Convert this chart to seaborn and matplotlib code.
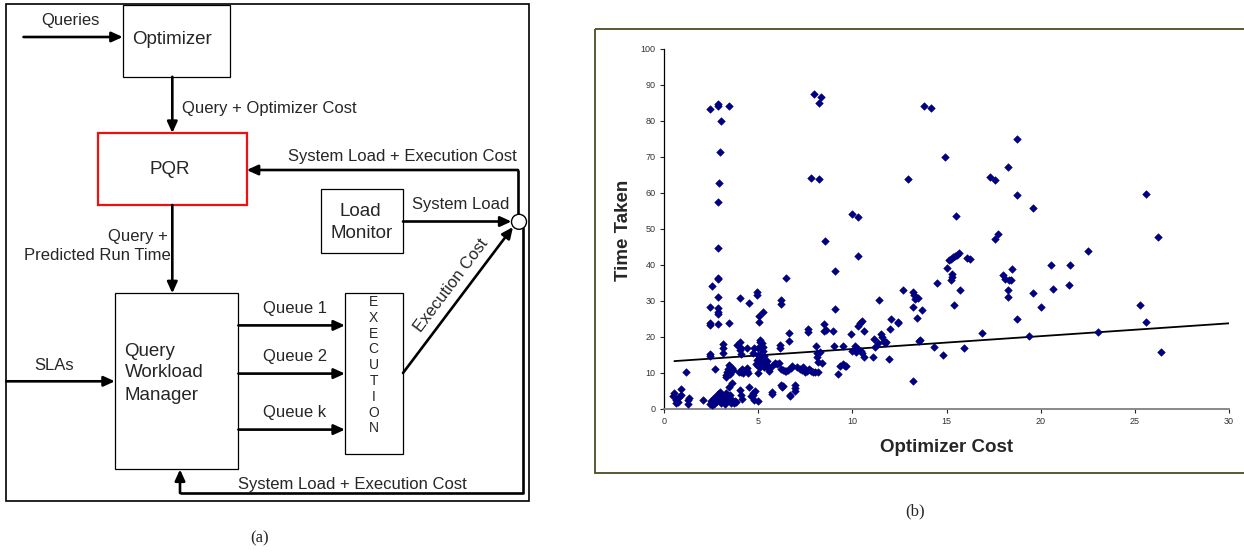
import numpy as np
import pandas as pd
import matplotlib
matplotlib.use("Agg")
import matplotlib.pyplot as plt
from matplotlib.patches import Rectangle, Circle
import seaborn as sns

# panel (b) points
cost = [2.42, 2.89, 2.89, 3.45, 3.04, 2.98, 2.91, 2.87, 2.87, 2.89, 2.89, 2.53, 2.87, 2.42, 2.89,
        2.89, 2.89, 2.42, 2.42, 2.87, 3.45, 2.46, 2.46, 2.72, 1.19,
        0.54, 0.63, 0.63, 0.88, 0.80, 0.72, 0.50, 0.90, 1.30, 1.35, 1.27, 2.05,
        2.45, 2.50, 2.55, 2.60, 2.70, 2.75, 2.80, 2.85, 2.90, 2.95, 3.00, 3.05, 3.10, 3.15, 3.20,
        3.30, 3.35, 3.45, 3.50, 3.55, 3.60, 3.70, 3.75, 3.80, 2.65, 3.25, 2.98, 3.45, 3.63,
        3.15, 3.15, 3.15,
        3.30, 3.35, 3.40, 3.45, 3.50, 3.55, 3.60, 3.30, 3.65,
        3.86, 4.09, 4.06, 4.04, 4.06, 4.10,
        4.10, 4.15, 4.40, 4.40, 4.45, 4.00, 4.20,
        4.06, 4.10, 4.15, 4.52, 4.52, 4.60, 4.74, 4.79, 4.74, 4.39, 4.70,
        4.92, 4.92, 5.05, 5.05, 5.24, 5.12, 5.20, 5.24, 5.24, 5.00, 5.10, 4.80, 5.00, 4.85, 5.00,
        4.90, 4.95, 5.00, 5.05, 5.10, 5.10, 5.15, 5.20, 5.20, 5.25, 5.30, 5.35, 5.40, 5.45, 5.00,
        5.15, 5.30, 5.50, 5.55, 5.60,
        5.76, 5.76, 5.80, 5.90, 6.00, 6.10, 6.16, 6.16, 6.20, 6.20, 6.20, 6.25, 6.30, 6.20, 6.30,
        6.40, 6.47, 6.50, 6.60, 6.66, 6.66, 6.70, 6.70, 6.75, 6.80, 6.96, 6.96, 6.96, 7.05, 7.20,
        7.35, 7.40, 7.50, 7.60, 7.70, 7.80, 7.90, 8.00, 8.20,
        7.62, 7.67, 7.80, 7.99, 8.24, 8.33, 8.24, 8.50, 8.50, 8.60, 8.57, 8.07, 8.10, 8.15, 8.20,
        8.37, 8.30, 8.97, 9.10, 9.08, 9.02, 9.50, 9.24, 9.35, 9.50, 9.60, 9.65,
        9.92, 9.99, 10.30, 10.30, 10.14, 10.00, 10.30, 10.40, 10.50, 10.64, 10.30, 10.45, 10.50,
        10.60, 10.20,
        11.12, 11.15, 11.20, 11.35, 11.42, 11.50, 11.60, 11.70, 11.75, 11.80, 11.93, 12.00, 12.04,
        12.44, 12.44,
        12.70, 12.95, 13.20, 13.25, 13.35, 13.50, 13.20, 13.42, 13.20, 13.60, 13.55, 13.68, 13.81,
        14.18, 14.35, 14.48, 14.83, 14.94, 15.02,
        15.15, 15.25, 15.35, 15.45, 15.55, 15.65, 15.28, 15.30, 15.25, 15.40, 15.48, 15.71, 15.93,
        16.08, 16.25, 16.88, 17.31, 17.59, 17.59, 17.76, 18.00, 18.10, 18.30, 18.40, 18.26, 18.26,
        18.26, 18.50, 18.76, 18.76, 18.76, 19.40, 19.60, 19.60, 20.00, 20.55, 20.63, 21.48, 21.56,
        22.49, 23.07, 25.30, 25.58, 25.58, 26.22, 26.38]

time_taken = [83.4, 84.3, 84.6, 84.2, 79.9, 71.3, 62.9, 57.5, 44.8, 36.4, 36.0, 34.2, 31.2, 28.2, 28.0,
              27.0, 26.5, 23.8, 23.3, 23.7, 23.8, 15.3, 14.6, 11.2, 10.3,
              4.4, 1.6, 2.5, 5.5, 3.4, 2.0, 3.5, 3.8, 1.4, 3.0, 2.5, 2.4,
              1.5, 2.2, 1.2, 2.8, 3.3, 2.0, 3.6, 4.2, 2.6, 4.8, 3.9, 1.8, 2.9, 3.5, 2.2,
              4.4, 2.6, 3.0, 4.0, 1.8, 2.5, 1.6, 2.3, 2.0, 1.4, 1.3, 2.2, 6.0, 7.1,
              18.0, 16.9, 15.6,
              9.0, 10.2, 11.2, 12.1, 9.6, 10.6, 11.3, 9.5, 10.8,
              17.8, 16.9, 30.7, 18.7, 16.4, 15.2,
              10.4, 11.2, 10.6, 11.4, 9.9, 10.2, 10.0,
              5.4, 3.8, 2.7, 29.4, 6.2, 3.5, 4.4, 16.9, 15.6, 16.9, 4.0,
              32.6, 31.7, 25.7, 24.3, 26.9, 19.2, 18.3, 17.3, 16.1, 17.0, 18.7, 2.5, 2.3, 4.9, 10.0,
              12.5, 13.5, 12.0, 14.2, 13.0, 11.8, 12.6, 14.0, 13.3, 12.2, 11.6, 12.8, 11.9, 13.2, 15.0,
              15.3, 14.6, 12.0, 11.0, 10.5,
              4.8, 4.1, 12.3, 12.8, 12.5, 12.9, 17.7, 16.9, 30.3, 29.1, 6.7, 6.0, 6.5, 11.0, 10.8,
              10.5, 36.3, 10.6, 10.7, 21.2, 19.0, 4.0, 3.5, 11.3, 12.0, 6.7, 5.8, 5.0, 11.6, 11.0,
              10.8, 11.7, 10.2, 10.6, 11.2, 10.5, 10.3, 10.2, 10.3,
              22.2, 21.4, 64.2, 87.5, 85.1, 86.6, 63.8, 23.5, 21.6, 21.9, 46.7, 17.4, 15.6, 14.5, 13.1,
              12.7, 15.8, 21.7, 38.4, 27.7, 17.4, 17.4, 9.7, 12.0, 12.5, 12.0, 11.9,
              20.7, 54.1, 53.3, 42.5, 17.4, 16.2, 23.0, 23.8, 24.5, 21.8, 16.8, 16.1, 15.5,
              14.4, 15.8,
              14.4, 19.5, 17.2, 18.3, 30.3, 20.8, 20.0, 19.0, 18.2, 18.7, 13.8, 22.2, 24.9,
              24.2, 23.8,
              33.0, 64.0, 32.6, 31.8, 30.6, 30.8, 28.2, 25.2, 7.9, 19.2, 18.8, 27.5, 84.2,
              83.5, 17.1, 35.1, 15.0, 69.9, 39.2,
              41.4, 41.8, 42.2, 42.5, 42.9, 43.3, 36.8, 37.4, 35.9, 28.9, 53.5, 33.0, 16.9,
              42.0, 41.6, 21.2, 64.5, 63.6, 47.3, 48.7, 37.1, 36.2, 35.9, 35.9, 67.3, 33.0,
              31.0, 38.9, 75.1, 59.5, 25.0, 20.3, 55.7, 32.3, 28.3, 40.0, 33.3, 34.4, 39.9,
              44.0, 21.5, 28.8, 59.8, 24.2, 47.9, 15.8]

# linear trendline as drawn (ends)
trend_x = [0.55, 30]
trend_y = [13.3, 23.8]

x_ticks = [0, 5, 10, 15, 20, 25, 30]
y_ticks = [0, 10, 20, 30, 40, 50, 60, 70, 80, 90, 100]

sns.set_style("white")
plt.rcParams['font.family'] = ['Liberation Sans', 'DejaVu Sans']

W, H = 1244, 554
fig = plt.figure(figsize=(12.44, 5.54), dpi=100)

# pixel-space axes for the block diagram (a) and the frame of (b)
dg = fig.add_axes([0, 0, 1, 1], zorder=0)
dg.set_xlim(0, W)
dg.set_ylim(H, 0)
dg.axis('off')

LW = 1.9


def box(x0, y0, x1, y1, color='black', lw=0.9):
    dg.add_patch(Rectangle((x0, y0), x1 - x0, y1 - y0, fill=False, edgecolor=color, lw=lw))


def arrow(pts):
    xs = [p[0] for p in pts]
    ys = [p[1] for p in pts]
    if len(pts) > 2:
        dg.plot(xs[:-1], ys[:-1], color='black', lw=LW, solid_capstyle='butt')
    dg.annotate('', xy=pts[-1], xytext=pts[-2],
                arrowprops=dict(arrowstyle='-|>,head_length=0.55,head_width=0.25',
                                mutation_scale=12, lw=LW, color='black',
                                shrinkA=0, shrinkB=0))


def label(x, y, s, size=12, **kw):
    dg.text(x, y, s, fontsize=size, ha=kw.pop('ha', 'center'), va=kw.pop('va', 'center'), **kw)


# outer frame
box(6, 4, 529, 501, lw=1.2)

# boxes
box(122.8, 5, 230, 76.8)
label(172, 40, 'Optimizer', size=13.5)
box(98.3, 133, 246.7, 205, color='#ee1111', lw=1.6)
label(170, 170, 'PQR', size=13.5)
box(320.8, 189.4, 403, 253.5)
label(360, 211, 'Load', size=13.5)
label(362, 233.8, 'Monitor', size=13.5)
box(114.9, 293.3, 238.4, 469.4)
label(124.6, 351, 'Query', size=13.5, ha='left')
label(124.6, 372.5, 'Workload', size=13.5, ha='left')
label(124.6, 395, 'Manager', size=13.5, ha='left')
box(345, 293.3, 403, 453.5)
for i, ch in enumerate('EXECUTION'):
    label(373.7, 302 + i * 15.8, ch, size=10)

dg.add_patch(Circle((519, 221.8), 7.5, facecolor='white', edgecolor='black', lw=1.0, zorder=3))

# arrows
arrow([(23.5, 37), (122.8, 37)])
label(70.8, 20.4, 'Queries')
arrow([(172.3, 76.8), (172.3, 133)])
label(182.4, 108, 'Query + Optimizer Cost', ha='left')
arrow([(518, 214), (518, 170), (246.7, 170)])
label(402, 157, 'System Load + Execution Cost')
arrow([(403, 221.5), (511.5, 221.5)])
label(461, 205, 'System Load')
arrow([(172.3, 205), (172.3, 293.3)])
label(168, 236.6, 'Query +', ha='right')
label(171, 255.6, 'Predicted Run Time', ha='right')
arrow([(6.2, 381.3), (114.9, 381.3)])
label(53.6, 365.5, 'SLAs')
for yq, name in zip([325.4, 373.6, 429.6], ['Queue 1', 'Queue 2', 'Queue k']):
    arrow([(238.4, yq), (345, yq)])
    label(295, yq - 16.8, name)
arrow([(403, 373), (513, 227)])
dg.text(451.6, 285, 'Execution Cost', fontsize=12, rotation=53, ha='center', va='center',
        rotation_mode='anchor')
arrow([(522.5, 227), (522.5, 493), (180, 493), (180, 469.4)])
label(352.6, 485, 'System Load + Execution Cost')

dg.text(259.5, 538.7, '(a)', fontsize=12, ha='center', va='center', family='Liberation Serif')
dg.text(915, 511, '(b)', fontsize=12, ha='center', va='center', family='Liberation Serif')

# frame around chart (b)
dg.add_patch(Rectangle((595, 29), 700, 444.3, fill=False, edgecolor='#4b4b22', lw=1.3))

# scatter chart (b)
ax = fig.add_axes([664 / W, 1 - 409 / H, (1229 - 664) / W, (409 - 49) / H], zorder=1)
ax.patch.set_alpha(0)
df = pd.DataFrame({'cost': cost, 'time': time_taken})
sns.scatterplot(data=df, x='cost', y='time', ax=ax, marker='D', color='#000080',
                s=15, edgecolor='#000080', linewidth=0.4, zorder=3)
sns.lineplot(x=trend_x, y=trend_y, ax=ax, color='black', lw=1.3, zorder=2)
ax.set_xlim(0, 30)
ax.set_ylim(0, 100)
ax.set_xticks(x_ticks)
ax.set_yticks(y_ticks)
ax.tick_params(direction='out', length=3, width=0.8, labelsize=6.5, labelcolor='#333333',
               left=True, bottom=True, pad=3)
for side in ['top', 'right']:
    ax.spines[side].set_visible(False)
ax.spines['left'].set_color('black')
ax.spines['left'].set_linewidth(0.9)
ax.spines['bottom'].set_color('#808080')
ax.spines['bottom'].set_linewidth(1.3)
ax.set_xlabel('Optimizer Cost', fontsize=13.5, fontweight='bold')
ax.set_ylabel('Time Taken', fontsize=13.5, fontweight='bold')
ax.xaxis.label.set_va('center')
ax.yaxis.label.set_va('center')
ax.xaxis.set_label_coords((947 - 664) / 565, (409 - 447) / 360)
ax.yaxis.set_label_coords((624 - 664) / 565, (409 - 230) / 360)

fig.savefig('out.png', dpi=100)
